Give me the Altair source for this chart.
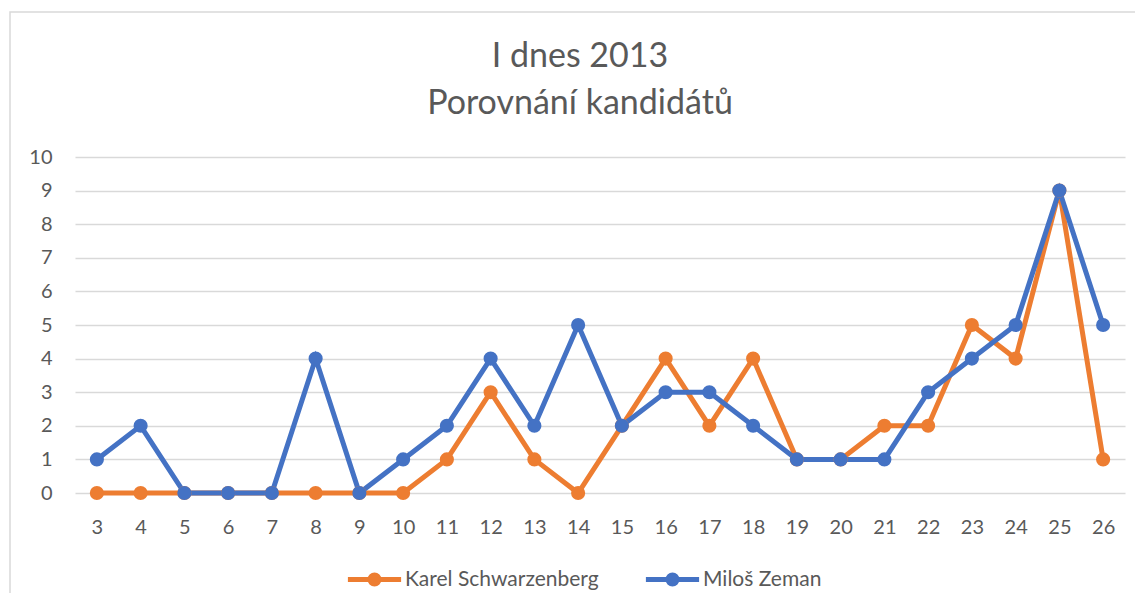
import altair as alt
import pandas as pd

days = list(range(3, 27))
karel = [0, 0, 0, 0, 0, 0, 0, 0, 1, 3, 1, 0, 2, 4, 2, 4, 1, 1, 2, 2, 5, 4, 9, 1]
milos = [1, 2, 0, 0, 0, 4, 0, 1, 2, 4, 2, 5, 2, 3, 3, 2, 1, 1, 1, 3, 4, 5, 9, 5]
series = ["Karel Schwarzenberg", "Miloš Zeman"]
colors = ["#ED7D31", "#4472C4"]
title_lines = ["I dnes 2013", "Porovnání kandidátů"]

rows = []
for i, d in enumerate(days):
    rows.append({"den": d, "kandidat": series[0], "hodnota": karel[i], "ord": 0})
for i, d in enumerate(days):
    rows.append({"den": d, "kandidat": series[1], "hodnota": milos[i], "ord": 1})
df = pd.DataFrame(rows)

FONT = "Lato"
GRAY = "#595959"

one = pd.DataFrame({"a": [0]})

border = alt.Chart(one).mark_rect(
    fillOpacity=0, stroke="#D9D9D9", strokeWidth=1.5
).encode(
    x=alt.value(-65), x2=alt.value(1085), y=alt.value(-145), y2=alt.value(465)
)

title = alt.Chart(one).mark_text(
    text=title_lines, font=FONT, fontSize=34, color=GRAY, align="center",
    baseline="alphabetic", lineHeight=47
).encode(x=alt.value(505), y=alt.value(-90))

x = alt.X("den:O", scale=alt.Scale(type="point", padding=0.5),
          axis=alt.Axis(title=None, labelAngle=0, ticks=False, domain=False,
                        labelPadding=24, labelFontSize=20, labelColor=GRAY,
                        labelFont=FONT, grid=False))
y = alt.Y("hodnota:Q", scale=alt.Scale(domain=[0, 10], nice=False),
          axis=alt.Axis(title=None, values=list(range(0, 11)), ticks=False,
                        domain=False, labelPadding=23, labelFontSize=20,
                        labelColor=GRAY, labelFont=FONT, gridColor="#D9D9D9",
                        gridWidth=1.5))
color = alt.Color("kandidat:N", scale=alt.Scale(domain=series, range=colors),
                  legend=alt.Legend(title=None, orient="none", direction="horizontal",
                                    legendX=283, legendY=406, padding=0,
                                    symbolType="M-1.9,0L1.9,0M-0.32,0a0.32,0.32 0 1,0 0.64,0a0.32,0.32 0 1,0 -0.64,0",
                                    symbolSize=784, symbolStrokeWidth=5,
                                    labelFontSize=21, labelColor=GRAY, labelFont=FONT,
                                    labelLimit=400, columnPadding=36, labelOffset=14))

lines = alt.Chart(df).mark_line(strokeWidth=5, point=alt.OverlayMarkDef(size=200, filled=True, opacity=1)).encode(
    x=x, y=y, color=color, order="ord:Q"
)

chart = alt.layer(border, title, lines).properties(
    width=1050, height=336,
    autosize=alt.AutoSizeParams(type="none"),
    padding={"left": 67, "top": 149, "right": 10, "bottom": 100},
).configure_view(stroke=None)

chart.save("out.html", embed_options={"renderer": "svg", "actions": False})
